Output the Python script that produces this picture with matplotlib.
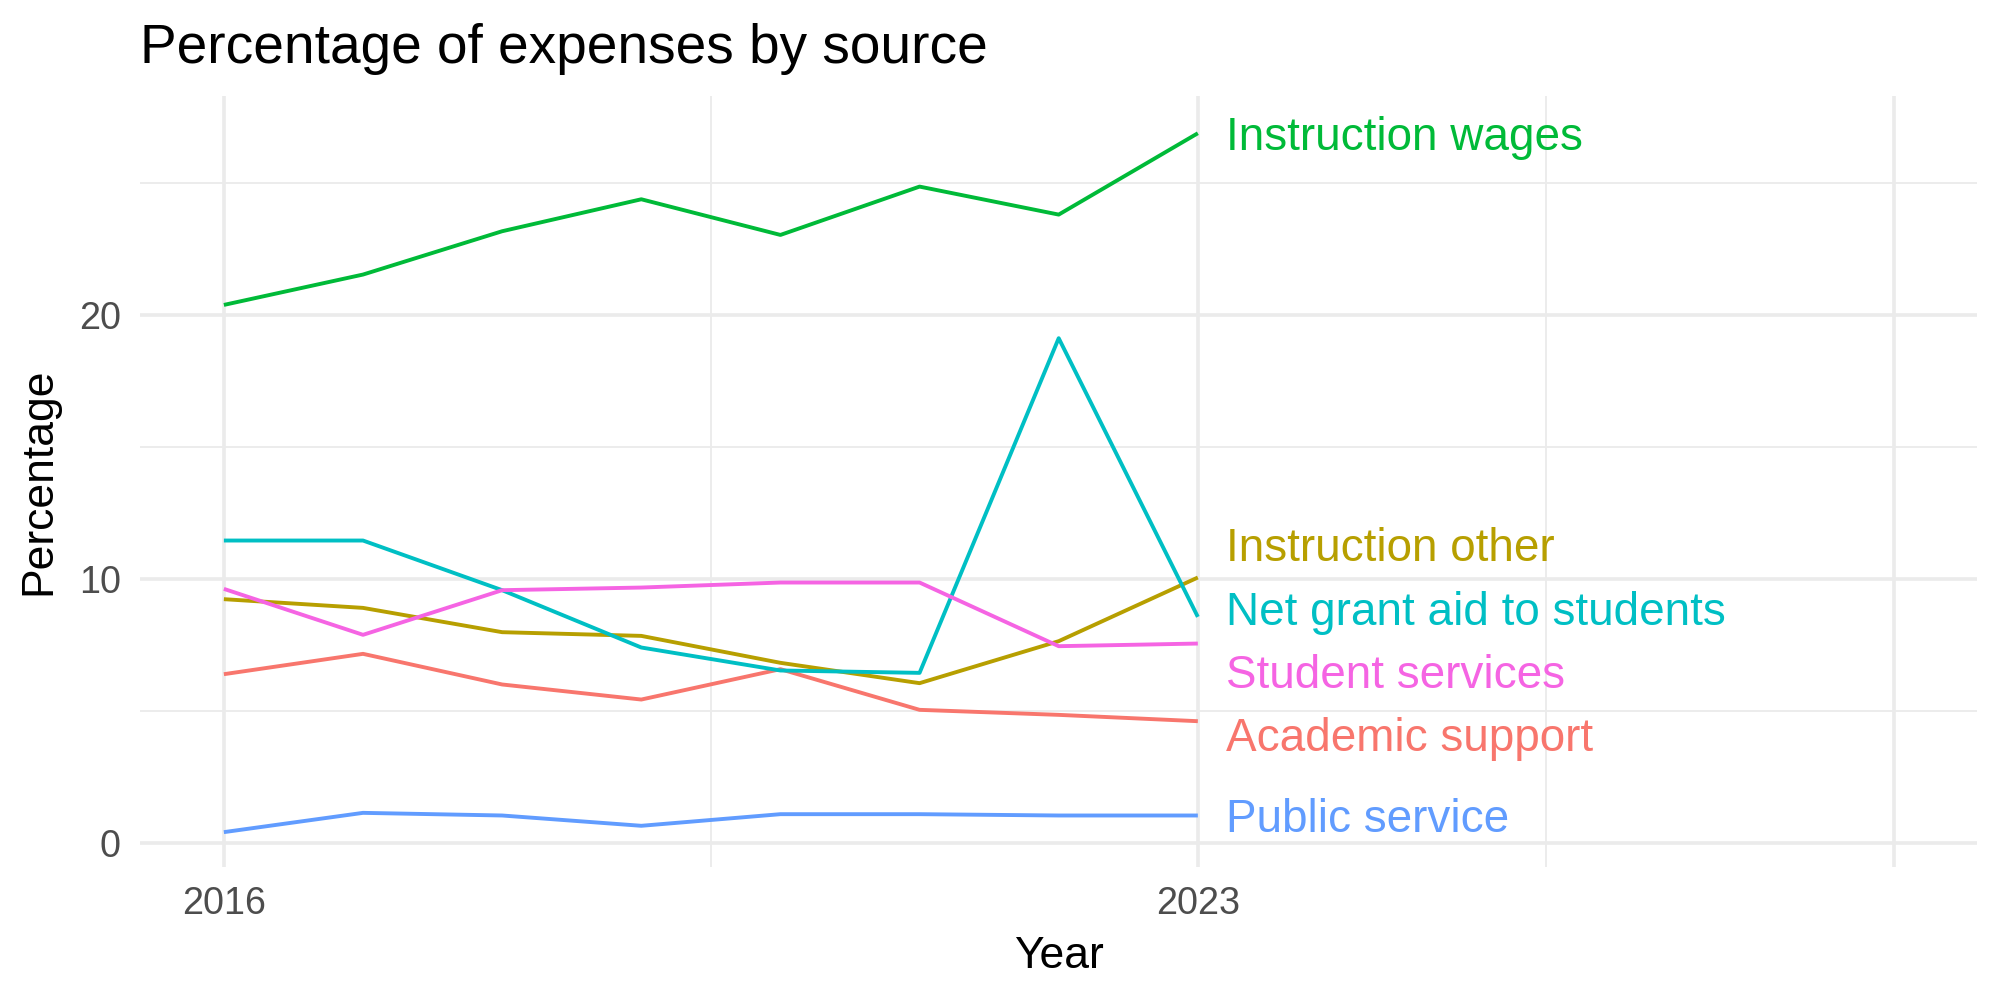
import numpy as np
import matplotlib.pyplot as plt

plt.rcParams['font.family'] = ['Liberation Sans', 'DejaVu Sans']

years = [2016, 2017, 2018, 2019, 2020, 2021, 2022, 2023]
academic_support = [6.41, 7.18, 6.02, 5.45, 6.60, 5.06, 4.87, 4.63]
instruction_other = [9.25, 8.92, 8.00, 7.86, 6.84, 6.07, 7.66, 10.07]
instruction_wages = [20.39, 21.54, 23.18, 24.39, 23.04, 24.87, 23.81, 26.89]
net_grant_aid = [11.47, 11.47, 9.59, 7.42, 6.55, 6.46, 19.13, 8.58]
public_service = [0.43, 1.16, 1.06, 0.67, 1.11, 1.11, 1.06, 1.06]
student_services = [9.64, 7.90, 9.59, 9.69, 9.88, 9.88, 7.47, 7.57]

series = {
    'Academic support': academic_support,
    'Instruction other': instruction_other,
    'Instruction wages': instruction_wages,
    'Net grant aid to students': net_grant_aid,
    'Public service': public_service,
    'Student services': student_services,
}
colors = ['#F8766D', '#B79F00', '#00BA38', '#00BFC4', '#619CFF', '#F564E3']


def cluster_pos(c, values, gap):
    offs = np.arange(len(c)) * gap
    start = np.mean([values[i] for i in c] - offs)
    return start + offs


def repel(values, gap):
    # push overlapping labels apart, keeping clusters centred on their targets
    order = np.argsort(values)
    clusters = []
    for i in order:
        clusters.append([i])
        while len(clusters) > 1:
            a, b = clusters[-2], clusters[-1]
            if cluster_pos(b, values, gap)[0] - cluster_pos(a, values, gap)[-1] < gap:
                clusters[-2:] = [a + b]
            else:
                break
    out = np.zeros(len(values))
    for c in clusters:
        for i, p in zip(c, cluster_pos(c, values, gap)):
            out[i] = p
    return out


fig = plt.figure(figsize=(10, 5), dpi=200)
ax = fig.add_axes([0.0702, 0.133, 0.9183, 0.771])

for (name, vals), col in zip(series.items(), colors):
    ax.plot(years, vals, color=col, lw=1.4, solid_capstyle='butt', zorder=3)

last = [v[-1] for v in series.values()]
label_y = repel(last, 2.4)
for name, y, col in zip(series.keys(), label_y, colors):
    ax.text(years[-1] + 0.2, y - 0.17, name, color=col, fontsize=16.5,
            ha='left', va='center', zorder=4)

ax.set_xlim(2015.4, 2028.6)
ax.set_ylim(-0.89, 28.3)
ax.set_xticks([2016, 2023, 2028])
ax.set_xticklabels(['2016', '2023', ''])
ax.set_xticks([2019.5, 2025.5], minor=True)
ax.set_yticks([0, 10, 20])
ax.set_yticks([5, 15, 25], minor=True)

ax.grid(which='major', color='#EBEBEB', lw=1.3)
ax.grid(which='minor', color='#EBEBEB', lw=0.65)
ax.set_axisbelow(True)
for s in ax.spines.values():
    s.set_visible(False)
ax.tick_params(which='both', length=0)
ax.tick_params(axis='x', labelsize=13.6, labelcolor='#4D4D4D', pad=7)
ax.tick_params(axis='y', labelsize=13.6, labelcolor='#4D4D4D', pad=7)

ax.set_xlabel('Year', fontsize=16, labelpad=5)
ax.set_ylabel('Percentage', fontsize=16, labelpad=7)
fig.text(0.0702, 0.951, 'Percentage of expenses by source', fontsize=19.8,
         ha='left', va='center')

fig.savefig('out.png', dpi=200, facecolor='white')
